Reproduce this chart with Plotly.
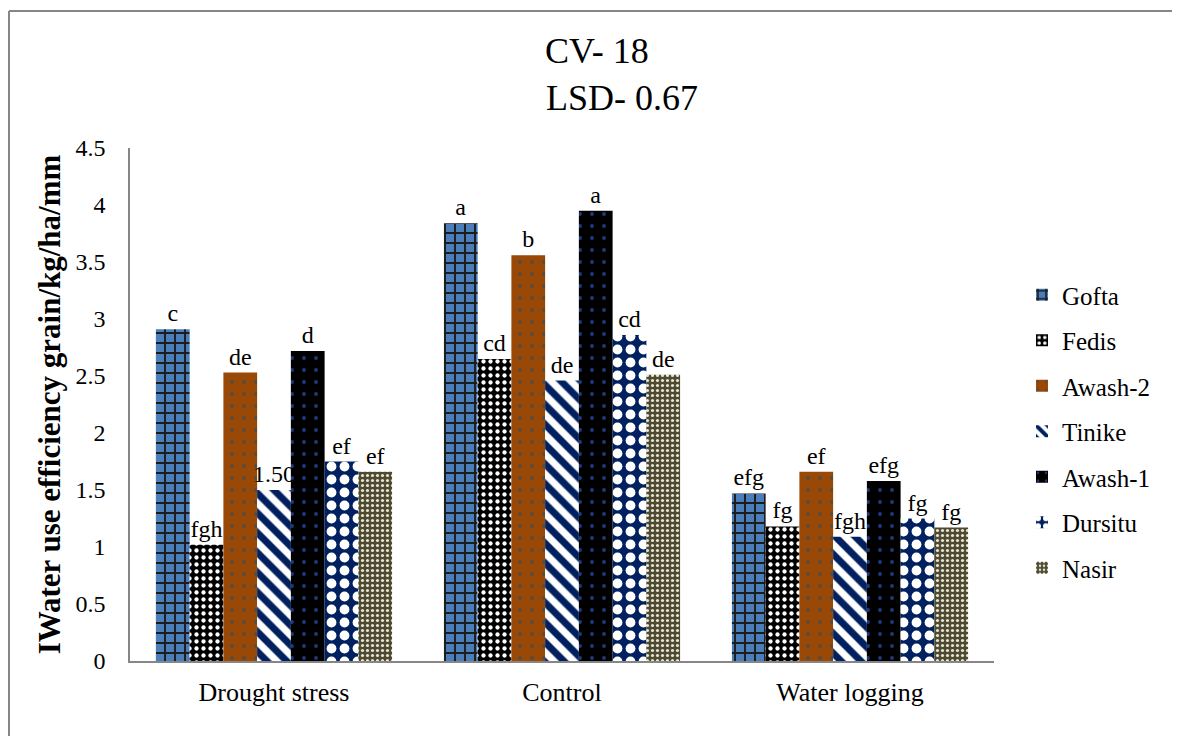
import plotly.graph_objects as go

categories = ["Drought stress", "Control", "Water logging"]
varieties = ["Gofta", "Fedis", "Awash-2", "Tinike", "Awash-1", "Dursitu", "Nasir"]

gofta = [2.91, 3.84, 1.47]
fedis = [1.02, 2.65, 1.18]
awash2 = [2.53, 3.56, 1.66]
tinike = [1.50, 2.46, 1.09]
awash1 = [2.72, 3.95, 1.58]
dursitu = [1.75, 2.86, 1.25]
nasir = [1.66, 2.51, 1.17]

lbl_gofta = ["c", "a", "efg"]
lbl_fedis = ["fgh", "cd", "fg"]
lbl_awash2 = ["de", "b", "ef"]
lbl_tinike = ["1.50", "de", "fgh"]
lbl_awash1 = ["d", "a", "efg"]
lbl_dursitu = ["ef", "cd", "fg"]
lbl_nasir = ["ef", "de", "fg"]

series = [gofta, fedis, awash2, tinike, awash1, dursitu, nasir]
labels = [lbl_gofta, lbl_fedis, lbl_awash2, lbl_tinike, lbl_awash1, lbl_dursitu, lbl_nasir]

patterns = [
    dict(shape="+", bgcolor="#4a7ebb", fgcolor="#1c1c1c", size=10, solidity=0.35, fgopacity=1),
    dict(shape=".", bgcolor="#000000", fgcolor="#ffffff", size=7, solidity=0.3, fgopacity=1),
    dict(shape=".", bgcolor="#984807", fgcolor="#5a4a3a", size=12, solidity=0.08, fgopacity=1),
    dict(shape="\\", bgcolor="#ffffff", fgcolor="#002060", size=14, solidity=0.5, fgopacity=1),
    dict(shape=".", bgcolor="#000000", fgcolor="#1f3a7a", size=12, solidity=0.08, fgopacity=1),
    dict(shape=".", bgcolor="#002060", fgcolor="#ffffff", size=13, solidity=0.45, fgopacity=1),
    dict(shape=".", bgcolor="#4e4a30", fgcolor="#e6e6d8", size=5, solidity=0.3, fgopacity=1),
]

font_family = "Times New Roman, Liberation Serif, serif"

fig = go.Figure()
for i, name in enumerate(varieties):
    fig.add_trace(go.Bar(
        x=categories, y=series[i], name=name,
        text=labels[i], textposition="outside", cliponaxis=False,
        constraintext="none",
        textfont=dict(family=font_family, size=24, color="#000000"),
        marker=dict(color=patterns[i]["bgcolor"], pattern=patterns[i],
                    line=dict(width=0)),
        legendgroup=name,
    ))

OFF = 8  # page offset of the figure in the browser
W, H = 1172, 728
L, R, T, B = 122, 186, 140, 75
pw, ph = W - L - R, H - T - B


def px_x(p):
    return (p - OFF - L) / pw


def px_y(p):
    return (H - B - (p - OFF)) / ph


fig.update_layout(
    width=W, height=H,
    margin=dict(l=L, r=R, t=T, b=B),
    paper_bgcolor="white", plot_bgcolor="white",
    barmode="group", bargap=0.18, bargroupgap=0,
    font=dict(family=font_family, size=24, color="#000000"),
    showlegend=True,
    legend=dict(x=px_x(1022), y=px_y(272), xanchor="left", yanchor="top",
                font=dict(family=font_family, size=25),
                tracegroupgap=10, itemwidth=30),
    xaxis=dict(showline=True, linecolor="#868686", linewidth=1.5,
               ticks="", tickfont=dict(family=font_family, size=26),
               ticklabelstandoff=7, showgrid=False),
    yaxis=dict(range=[0, 4.5], dtick=0.5, showline=True, linecolor="#868686",
               linewidth=1.5, ticks="", showgrid=False, zeroline=False,
               tickfont=dict(family=font_family, size=24),
               ticklabelstandoff=18,
               tickformat="~g",
               title=dict(text="<b>IWater use efficiency grain/kg/ha/mm</b>",
                          font=dict(family=font_family, size=31), standoff=6)),
    annotations=[
        dict(text="CV- 18", x=px_x(597), y=px_y(51), xref="paper", yref="paper",
             xanchor="center", yanchor="middle",
             showarrow=False, font=dict(family=font_family, size=36)),
        dict(text="LSD- 0.67", x=px_x(622), y=px_y(98), xref="paper", yref="paper",
             xanchor="center", yanchor="middle",
             showarrow=False, font=dict(family=font_family, size=36)),
    ],
    shapes=[
        dict(type="line", xref="paper", yref="paper", x0=px_x(9), x1=px_x(9),
             y0=px_y(11), y1=px_y(740), line=dict(color="#868686", width=2)),
        dict(type="line", xref="paper", yref="paper", x0=px_x(9), x1=px_x(1185),
             y0=px_y(11), y1=px_y(11), line=dict(color="#868686", width=2)),
    ],
)

fig.write_html("out.html")
